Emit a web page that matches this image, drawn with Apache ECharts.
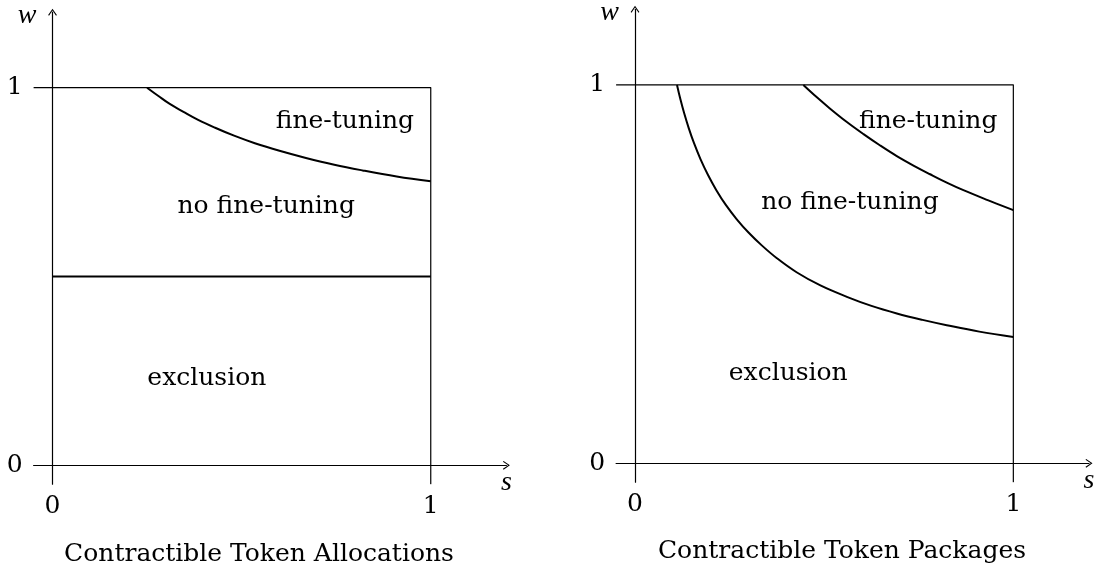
<!DOCTYPE html>
<html>
<head>
<meta charset="utf-8">
<script src="https://cdn.jsdelivr.net/npm/echarts@6/dist/echarts.min.js"></script>
<style>
  html, body { margin: 0; padding: 0; background: #fff; }
  #main { width: 1102px; height: 571px; }
</style>
</head>
<body>
<div id="main"></div>
<script>
// tick labels on both axes
var sTicks = [0, 1];
var wTicks = [0, 1];

// panel titles
var panelTitles = ['Contractible Token Allocations', 'Contractible Token Packages'];

// frame of the unit square (top edge and right edge, with the tick stubs)
var frameS = [-0.05, 1, 1];
var frameW = [1, 1, -0.05];

// left panel: fine-tuning boundary and exclusion boundary
var allocTopS = [0.250, 0.280, 0.310, 0.345, 0.385, 0.430, 0.480, 0.535, 0.600, 0.670, 0.745, 0.820, 0.910, 1.000];
var allocTopW = [1.000, 0.978, 0.957, 0.937, 0.915, 0.894, 0.873, 0.853, 0.833, 0.814, 0.796, 0.781, 0.765, 0.752];
var allocLowS = [0, 1];
var allocLowW = [0.5, 0.5];

// right panel: fine-tuning boundary and exclusion boundary
var packTopS = [0.445, 0.480, 0.515, 0.560, 0.604, 0.648, 0.692, 0.736, 0.780, 0.824, 0.868, 0.934, 1.000];
var packTopW = [1.000, 0.968, 0.938, 0.902, 0.870, 0.840, 0.812, 0.787, 0.764, 0.742, 0.722, 0.695, 0.669];
var packLowS = [0.111, 0.120, 0.130, 0.142, 0.156, 0.173, 0.193, 0.215, 0.240, 0.269, 0.300, 0.335, 0.375,
                0.427, 0.490, 0.560, 0.625, 0.692, 0.760, 0.824, 0.910, 1.000];
var packLowW = [1.000, 0.962, 0.925, 0.886, 0.846, 0.804, 0.762, 0.722, 0.683, 0.645, 0.610, 0.576, 0.542,
                0.505, 0.470, 0.440, 0.416, 0.396, 0.379, 0.365, 0.348, 0.334];

// region names and where they sit (s, w)
var regionNames = ['fine-tuning', 'no fine-tuning', 'exclusion'];
var allocRegionS = [0.773, 0.565, 0.408];
var allocRegionW = [0.910, 0.685, 0.231];
var packRegionS = [0.775, 0.568, 0.405];
var packRegionW = [0.903, 0.688, 0.238];

function zip(a, b) {
  return a.map(function (v, i) { return [v, b[i]]; });
}

var serif = 'DejaVu Serif';
var arrow = 'path://M50 0 L100 72 L90 80 L50 20 L10 80 L0 72 Z';

function makeX(gi) {
  return {
    type: 'value', gridIndex: gi, min: -0.05, max: 1.2,
    splitLine: { show: false },
    axisTick: { show: false },
    axisLine: { onZero: true, symbol: ['none', arrow], symbolSize: [11, 7],
      lineStyle: { color: '#000', width: 1.2 } },
    axisLabel: { customValues: sTicks, margin: 10, fontSize: 25, fontFamily: serif, color: '#000' },
    name: 's', nameLocation: 'end', nameGap: 0,
    nameTextStyle: { fontFamily: 'Liberation Serif', fontStyle: 'italic', fontSize: 28, color: '#000',
      align: 'center', verticalAlign: 'top', padding: [3, 0, 0, 0] }
  };
}

function makeY(gi) {
  return {
    type: 'value', gridIndex: gi, min: -0.05, max: 1.2,
    splitLine: { show: false },
    axisTick: { show: false },
    axisLine: { onZero: true, symbol: ['none', arrow], symbolSize: [11, 7],
      lineStyle: { color: '#000', width: 1.2 } },
    axisLabel: { customValues: wTicks, margin: 11, fontSize: 25, fontFamily: serif, color: '#000' },
    name: 'w', nameLocation: 'end', nameGap: -3,
    nameTextStyle: { fontFamily: 'Liberation Serif', fontStyle: 'italic', fontSize: 28, color: '#000',
      align: 'right', verticalAlign: 'middle', padding: [0, 16, 0, 0] }
  };
}

function lineSeries(gi, data, width, smooth) {
  return {
    type: 'line', xAxisIndex: gi, yAxisIndex: gi, data: data,
    symbol: 'none', smooth: smooth, silent: true,
    lineStyle: { color: '#000', width: width, join: 'round' }
  };
}

function labelSeries(gi, sArr, wArr) {
  return {
    type: 'scatter', xAxisIndex: gi, yAxisIndex: gi, symbolSize: 0, silent: true,
    itemStyle: { color: '#000' },
    data: regionNames.map(function (n, i) { return { name: n, value: [sArr[i], wArr[i]] }; }),
    label: { show: true, position: 'inside', formatter: '{b}', opacity: 1, textBorderWidth: 0,
      fontFamily: serif, fontSize: 25, color: '#000' }
  };
}

var myChart = echarts.init(document.getElementById('main'));

var option = {
  backgroundColor: '#fff',
  animation: false,
  title: [
    { text: panelTitles[0], left: 259, top: 542, textAlign: 'center', padding: 0,
      textStyle: { fontFamily: serif, fontSize: 25, fontWeight: 'normal', color: '#000' } },
    { text: panelTitles[1], left: 842, top: 539, textAlign: 'center', padding: 0,
      textStyle: { fontFamily: serif, fontSize: 25, fontWeight: 'normal', color: '#000' } }
  ],
  grid: [
    { left: 33.6, top: 12.2, width: 472.8, height: 472, containLabel: false, outerBoundsMode: 'none' },
    { left: 616.1, top: 9.3, width: 472.9, height: 472.9, containLabel: false, outerBoundsMode: 'none' }
  ],
  xAxis: [makeX(0), makeX(1)],
  yAxis: [makeY(0), makeY(1)],
  series: [
    lineSeries(0, zip(frameS, frameW), 1.2, false),
    lineSeries(0, zip(allocTopS, allocTopW), 2, 0.4),
    lineSeries(0, zip(allocLowS, allocLowW), 2, false),
    labelSeries(0, allocRegionS, allocRegionW),
    lineSeries(1, zip(frameS, frameW), 1.2, false),
    lineSeries(1, zip(packTopS, packTopW), 2, 0.4),
    lineSeries(1, zip(packLowS, packLowW), 2, 0.4),
    labelSeries(1, packRegionS, packRegionW)
  ]
};

myChart.setOption(option);
</script>
</body>
</html>
